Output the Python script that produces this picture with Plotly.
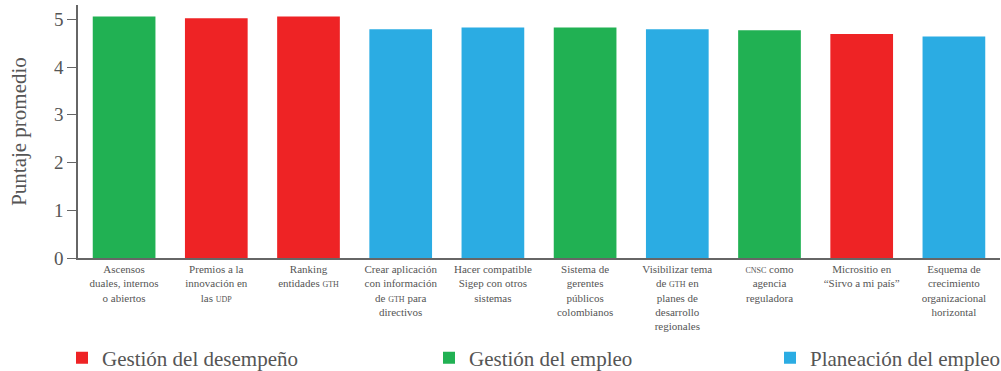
import plotly.graph_objects as go

# Categories (tick labels), average scores and the area each initiative belongs to
sc = '<span style="font-size:8px">{}</span>'
categories = [
    "Ascensos<br>duales, internos<br>o abiertos",
    "Premios a la<br>innovación en<br>las " + sc.format("UDP"),
    "Ranking<br>entidades " + sc.format("GTH"),
    "Crear aplicación<br>con información<br>de " + sc.format("GTH") + " para<br>directivos",
    "Hacer compatible<br>Sigep con otros<br>sistemas",
    "Sistema de<br>gerentes<br>públicos<br>colombianos",
    "Visibilizar tema<br>de " + sc.format("GTH") + " en<br>planes de<br>desarrollo<br>regionales",
    sc.format("CNSC") + " como<br>agencia<br>reguladora",
    "Micrositio en<br>“Sirvo a mi país”",
    "Esquema de<br>crecimiento<br>organizacional<br>horizontal",
]
scores = [5.06, 5.02, 5.06, 4.79, 4.83, 4.83, 4.79, 4.77, 4.69, 4.64]
areas = [
    "Gestión del empleo",
    "Gestión del desempeño",
    "Gestión del desempeño",
    "Planeación del empleo",
    "Planeación del empleo",
    "Gestión del empleo",
    "Planeación del empleo",
    "Gestión del empleo",
    "Gestión del desempeño",
    "Planeación del empleo",
]

series = ["Gestión del desempeño", "Gestión del empleo", "Planeación del empleo"]
colors = {"Gestión del desempeño": "#EE2325",
          "Gestión del empleo": "#21B153",
          "Planeación del empleo": "#2BACE3"}
legend_ids = {"Gestión del desempeño": "legend",
              "Gestión del empleo": "legend2",
              "Planeación del empleo": "legend3"}
# left edge of each legend box, as a fraction of the page width
legend_x = {"Gestión del desempeño": 62 / 1001,
            "Gestión del empleo": 429 / 1001,
            "Planeación del empleo": 770 / 1001}

FONT = "Liberation Serif"
GRAY = "#555555"

fig = go.Figure()
for s in series:
    xs = [c for c, a in zip(categories, areas) if a == s]
    ys = [v for v, a in zip(scores, areas) if a == s]
    fig.add_trace(go.Bar(x=xs, y=ys, name=s, marker_color=colors[s],
                         marker_line_width=0, width=0.68,
                         legend=legend_ids[s], showlegend=True))

legend_common = dict(orientation="h", yanchor="middle", xanchor="left",
                     xref="container", yref="container", y=13 / 371,
                     font=dict(family=FONT, size=21, color=GRAY),
                     bgcolor="rgba(0,0,0,0)", itemclick=False,
                     itemdoubleclick=False)
fig.update_layout(
    barmode="overlay",
    showlegend=True,
    width=1001, height=371,
    margin=dict(l=78, r=1, t=5, b=113, autoexpand=False),
    plot_bgcolor="white", paper_bgcolor="white",
    font=dict(family=FONT, color=GRAY),
    legend=dict(x=legend_x[series[0]], **legend_common),
    legend2=dict(x=legend_x[series[1]], **legend_common),
    legend3=dict(x=legend_x[series[2]], **legend_common),
    xaxis=dict(categoryorder="array", categoryarray=categories,
               showline=True, linecolor="#666666", linewidth=1.5,
               ticks="", tickfont=dict(family=FONT, size=11, color=GRAY),
               showgrid=False, automargin=False),
    yaxis=dict(range=[0, 5.3], tickvals=[0, 1, 2, 3, 4, 5],
               showline=True, linecolor="#666666", linewidth=1.5,
               ticks="outside", ticklen=9, tickcolor="#666666",
               tickfont=dict(family=FONT, size=19, color=GRAY),
               showgrid=False, zeroline=False, automargin=False,
               title=dict(text="Puntaje promedio", standoff=22,
                          font=dict(family=FONT, size=21, color=GRAY))),
)

fig.write_html("out.html")
